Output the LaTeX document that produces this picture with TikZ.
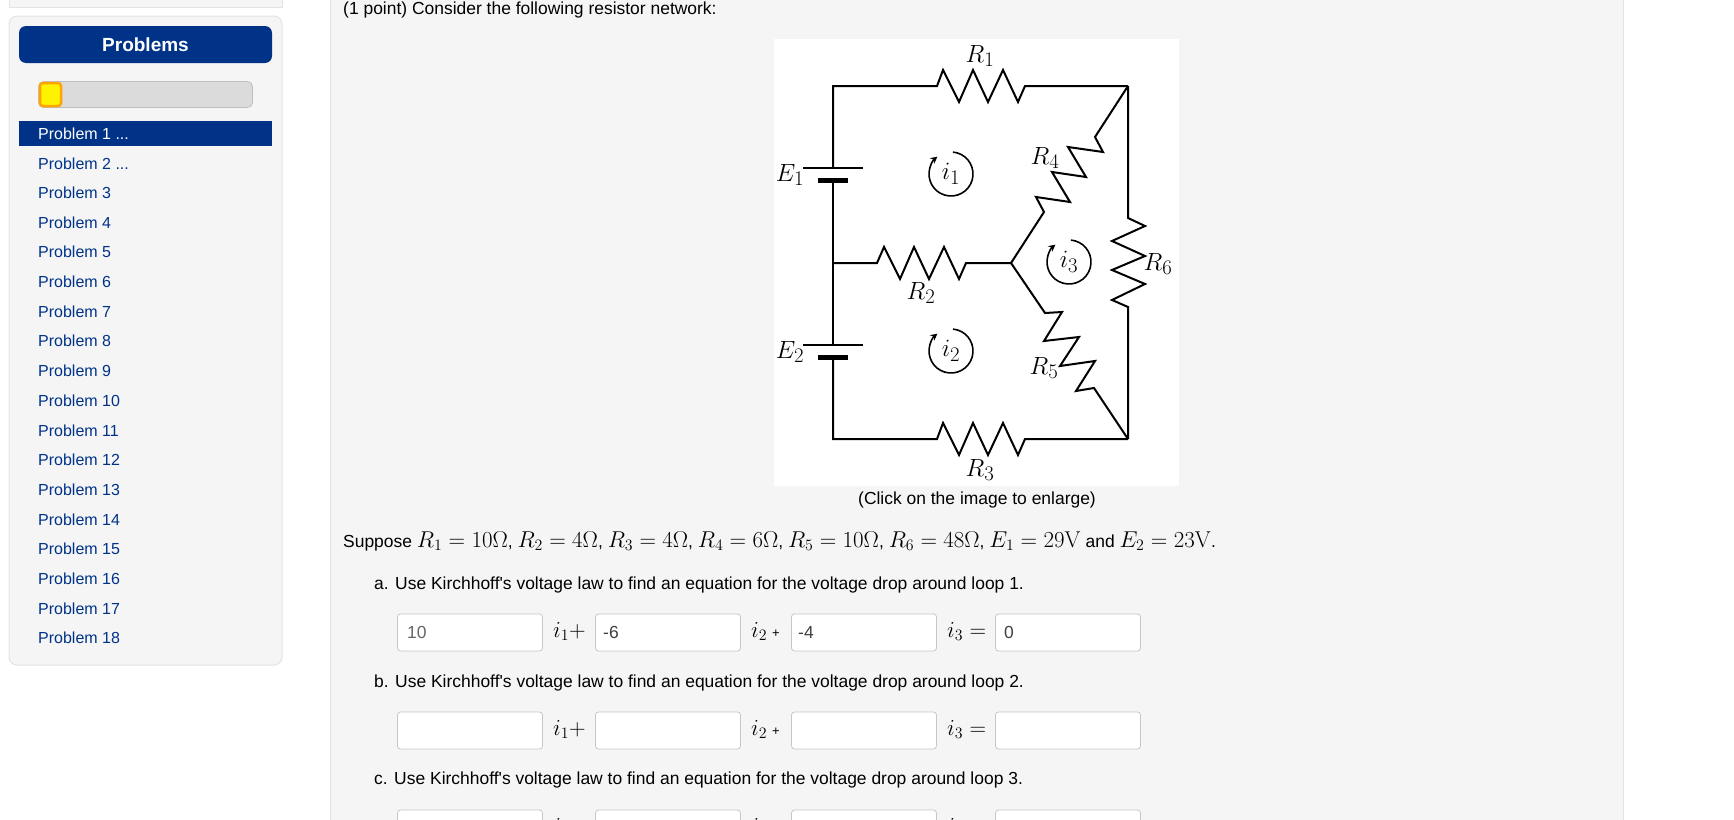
\documentclass[tikz,border=0pt]{standalone}
\usepackage[no-math]{fontspec}
\usepackage{anyfontsize}
\setmainfont{Liberation Sans}
\usetikzlibrary{arrows.meta}
\definecolor{navy}{HTML}{003388}
\definecolor{panelgray}{HTML}{F5F5F5}
\definecolor{panelline}{HTML}{E3E3E3}
\definecolor{barorange}{HTML}{FFA500}
\newcommand{\mth}[1]{\scalebox{1.105}{\fontsize{20.74}{22}\selectfont$#1$}}
\tikzset{
  wire/.style={line width=2pt, line join=miter, black},
  loopi/.style={line width=1.6pt, -{Stealth[length=7pt,width=7pt]}},
  txt/.style={inner sep=0pt, anchor=base west, font=\fontsize{17.45}{21}\selectfont},
  side/.style={inner sep=0pt, anchor=base west, font=\fontsize{16}{19}\selectfont},
  clab/.style={inner sep=0pt, font=\fontsize{24.88}{28}\selectfont},
  inputbox/.style={draw=black!22, fill=white, rounded corners=3pt, line width=0.8pt},
}
\begin{document}
\begin{tikzpicture}[x=1pt, y=-1pt]
                \clip (0,0) rectangle (1734,819);
                \fill[white] (0,0) rectangle (1734,819);
                % sidebar
                \draw[panelline, fill=panelgray] (9,-5) rectangle (282,7);
                \draw[panelline, fill=panelgray, rounded corners=8pt, line width=1pt] (9,16) rectangle (282,665);
                \node(prob_h) at(145.5, 44.5) [fill=navy, rounded corners=7pt, minimum width=253pt, minimum height=37pt, inner sep=0pt, text=white, font=\fontsize{19}{22}\selectfont\bfseries] {Problems};
                \draw[black!25, fill=black!14, rounded corners=5pt, line width=0.8pt] (38.5,81.5) rectangle (252.5,107.5);
                \draw[barorange, fill=yellow, rounded corners=3pt, line width=2.5pt] (40,83) rectangle (61,106);
                \fill[navy] (19,121) rectangle (272,146);
                \node(prob_1) at(38, 139) [side, text=white] {Problem 1 ...};
                \node(prob_2) at(38, 169) [side, text=navy] {Problem 2 ...};
                \foreach \n in {3,...,18}
                    \node(prob_\n) at(38, {139+(\n-1)*29.7}) [side, text=navy] {Problem \n};
                % main panel
                \draw[panelline, fill=panelgray] (330,-5) rectangle (1623,825);
                \node(intro) at(343, 14) [txt] {(1 point) Consider the following resistor network:};
                \fill[white] (774,39) rectangle (1179,486);
                \node(caption) at(977, 500) [txt, anchor=center] {(Click on the image to enlarge)};
                % circuit
                \coordinate (tl) at (833,86);
                \coordinate (tr) at (1128,86);
                \coordinate (bl) at (833,439);
                \coordinate (br) at (1128,439);
                \coordinate (ml) at (833,263);
                \coordinate (mc) at (1011,263);
                \coordinate (e1t) at (833,168);
                \coordinate (e1b) at (833,180);
                \coordinate (e2t) at (833,345);
                \coordinate (e2b) at (833,357);
                \draw[wire] (e1t) -- (tl) -- (937,86) -- (943,70) -- (959,102) -- (973,70) -- (988,102) -- (1003,70) -- (1018,102) -- (1025,86) -- (tr);
                \draw[wire] (e2b) -- (bl) -- (937,439) -- (943,423) -- (959,455) -- (973,423) -- (988,455) -- (1003,423) -- (1018,455) -- (1025,439) -- (br);
                \draw[wire] (ml) -- (877,263) -- (884,247) -- (900,279) -- (914,247) -- (929,279) -- (944,247) -- (959,279) -- (966,263) -- (mc);
                \draw[wire] (tr) -- (1095,137) -- (1103,152) -- (1068,147) -- (1086,177) -- (1052,172) -- (1070,202) -- (1036,197) -- (1044,212) -- (mc);
                \draw[wire] (mc) -- (1045,313) -- (1062,312) -- (1044,341) -- (1079,337) -- (1060,366) -- (1095,361) -- (1076,391) -- (1094,388) -- (br);
                \draw[wire] (tr) -- (1128,218) -- (1145,226) -- (1112,241) -- (1145,256) -- (1112,270) -- (1145,284) -- (1112,300) -- (1128,307) -- (br);
                \draw[wire] (e1b) -- (e2t);
                \draw[wire] (803,168) -- (863,168);
                \draw[wire] (803,345) -- (863,345);
                \draw[line width=5pt] (818,180) -- (848,180);
                \draw[line width=5pt] (818,357) -- (848,357);
                % loop currents
                \foreach \nm/\cx/\cy in {1/951/174, 2/951/351, 3/1069/262} {
                    \node(i_\nm) at(\cx, \cy) [clab] {$i_\nm$};
                    \draw[loopi] (\cx,\cy) ++(-85:22) arc[start angle=-85, end angle=232, radius=22];
                }
                \node(lab_r1) at(980, 56) [clab] {$R_1$};
                \node(lab_r2) at(921, 293) [clab] {$R_2$};
                \node(lab_r3) at(980, 470) [clab] {$R_3$};
                \node(lab_r4) at(1045, 158) [clab] {$R_4$};
                \node(lab_r5) at(1044, 368) [clab] {$R_5$};
                \node(lab_r6) at(1158, 264) [clab] {$R_6$};
                \node(lab_e1) at(790, 175) [clab] {$E_1$};
                \node(lab_e2) at(790, 352) [clab] {$E_2$};
                % question text
                \node(given) at(343, 547) [txt] {Suppose \mth{R_1=10\Omega}, \mth{R_2=4\Omega}, \mth{R_3=4\Omega}, \mth{R_4=6\Omega}, \mth{R_5=10\Omega}, \mth{R_6=48\Omega}, \mth{E_1=29\mathrm{V}} and \mth{E_2=23\mathrm{V}}.};
                \node(part_a) at(374, 589) [txt] {a. Use Kirchhoff\textquotesingle s voltage law to find an equation for the voltage drop around loop 1.};
                \node(part_b) at(374, 687) [txt] {b. Use Kirchhoff\textquotesingle s voltage law to find an equation for the voltage drop around loop 2.};
                \node(part_c) at(374, 784) [txt] {c. Use Kirchhoff\textquotesingle s voltage law to find an equation for the voltage drop around loop 3.};
                % answer rows
                \foreach \rw/\ry in {a/614, b/712, c/810} {
                    \draw[inputbox] (397.5,\ry) rectangle ++(145,37);
                    \draw[inputbox] (595.5,\ry) rectangle ++(145,37);
                    \draw[inputbox] (791.5,\ry) rectangle ++(145,37);
                    \draw[inputbox] (995.5,\ry) rectangle ++(145,37);
                    \node(c1_\rw) at(553, \ry+23) [txt] {\mth{i_1{+}}};
                    \node(c2_\rw) at(751, \ry+23) [txt] {\mth{i_2}\ {\fontsize{13}{15}\selectfont +}};
                    \node(c3_\rw) at(947, \ry+23) [txt] {\mth{i_3=}};
                }
                \node(ans_1) at(407, 638) [txt, text=black!60] {10};
                \node(ans_2) at(603, 638) [txt, text=black!75] {-6};
                \node(ans_3) at(798, 638) [txt, text=black!75] {-4};
                \node(ans_4) at(1004, 638) [txt, text=black!75] {0};
\end{tikzpicture}
\end{document}
